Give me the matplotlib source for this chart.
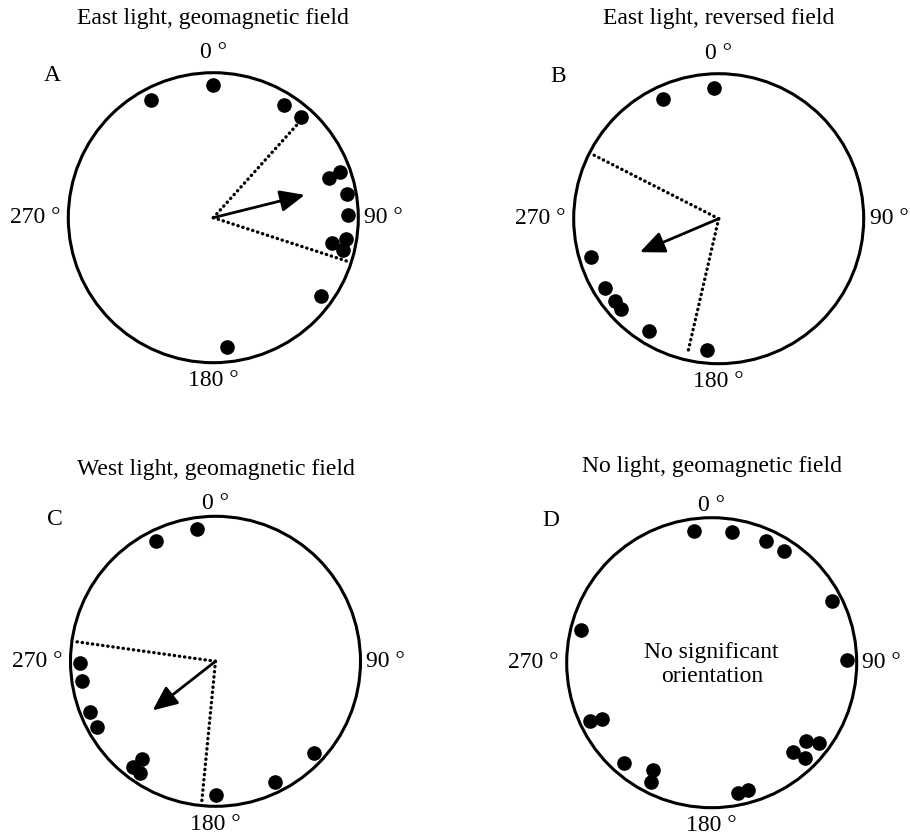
import numpy as np
import matplotlib
matplotlib.use("Agg")
import matplotlib.pyplot as plt
from matplotlib.patches import Circle

plt.rcParams['font.family'] = ['Liberation Serif', 'DejaVu Serif']

# headings (compass degrees, clockwise from 0) and radial position of each dot
titles = ['East light, geomagnetic field', 'East light, reversed field',
          'West light, geomagnetic field', 'No light, geomagnetic field']
letters = ['A', 'B', 'C', 'D']

a_angles = [0, 332, 32, 41, 70, 71, 80, 89, 99, 102, 104, 126, 174]
a_radii = [0.915, 0.918, 0.917, 0.92, 0.93, 0.845, 0.933, 0.93, 0.93, 0.84, 0.924, 0.915, 0.90]

b_angles = [358, 335, 253.5, 238.5, 231.5, 227, 212, 185]
b_radii = [0.905, 0.91, 0.92, 0.917, 0.91, 0.917, 0.913, 0.906]

c_angles = [352, 333.6, 269.3, 261.7, 248, 241, 217, 218, 214, 179.7, 153.8, 133]
c_radii = [0.92, 0.924, 0.938, 0.93, 0.935, 0.935, 0.845, 0.926, 0.927, 0.924, 0.926, 0.926]

d_angles = [352.5, 8.7, 24, 33, 62.7, 88.7, 284, 244.3, 242.9, 221.2, 208.4, 207.1,
            168.7, 164, 137.7, 135.8, 129.4, 126.7]
d_radii = [0.915, 0.914, 0.919, 0.918, 0.93, 0.93, 0.93, 0.93, 0.85, 0.923, 0.845, 0.922,
           0.915, 0.914, 0.835, 0.921, 0.846, 0.924]

# mean vector (direction, length) and 95% confidence limits (direction, line length)
mean_dir = [76, 247, 232, None]
mean_len = [0.65, 0.59, 0.55, None]
ci_dirs = [(42, 108), (297, 193), (278, 185.6), None]
ci_lens = [(0.9, 0.97), (0.99, 0.956), (0.99, 0.97), None]

all_angles = [a_angles, b_angles, c_angles, d_angles]
all_radii = [a_radii, b_radii, c_radii, d_radii]

# layout in pixels
W, H = 910, 836
R = 145.0
centers = [(213.3, 217.7), (718.7, 218.7), (215.5, 661.3), (711.7, 662.7)]
title_y = [1.377, 1.384, 1.32, 1.355]
zero_y = [1.14, 1.14, 1.085, 1.085]
fs = 17


def xy(angle, r):
    t = np.radians(angle)
    return r * np.sin(t), r * np.cos(t)


fig = plt.figure(figsize=(W / 100, H / 100), dpi=100)

for i in range(4):
    cx, cy = centers[i]
    ext = 1.1
    ax = fig.add_axes([(cx - ext * R) / W, 1 - (cy + ext * R) / H,
                       2 * ext * R / W, 2 * ext * R / H])
    ax.set_xlim(-ext, ext)
    ax.set_ylim(-ext, ext)
    ax.axis('off')

    ax.add_patch(Circle((0, 0), 1, fill=False, lw=2.2, color='black', clip_on=False))

    x, y = xy(np.array(all_angles[i]), np.array(all_radii[i]))
    ax.plot(x, y, 'o', color='black', markersize=9.5, clip_on=False)

    if ci_dirs[i] is not None:
        for ang, ln in zip(ci_dirs[i], ci_lens[i]):
            ex, ey = xy(ang, ln)
            ax.plot([0, ex], [0, ey], color='black', lw=2.4,
                    linestyle=(0, (0.1, 1.45)), dash_capstyle='round')
        tx, ty = xy(mean_dir[i], mean_len[i])
        ax.annotate('', xy=(tx, ty), xytext=(0, 0),
                    arrowprops=dict(arrowstyle='-|>,head_length=0.5,head_width=0.22',
                                    lw=2.0, color='black', mutation_scale=30,
                                    shrinkA=0, shrinkB=0))
    else:
        ax.text(0, -0.015, 'No significant\norientation', ha='center', va='center',
                fontsize=fs, multialignment='center')

    ax.text(0, title_y[i], titles[i], ha='center', va='center', fontsize=fs)
    ax.text(-1.11, 0.98, letters[i], ha='center', va='center', fontsize=fs)
    ax.text(0, zero_y[i], '0 °', ha='center', va='center', fontsize=fs)
    ax.text(0, -1.125, '180 °', ha='center', va='center', fontsize=fs)
    ax.text(-1.055, 0, '270 °', ha='right', va='center', fontsize=fs)
    ax.text(1.04, 0, '90 °', ha='left', va='center', fontsize=fs)

fig.savefig('out.png', dpi=100)
